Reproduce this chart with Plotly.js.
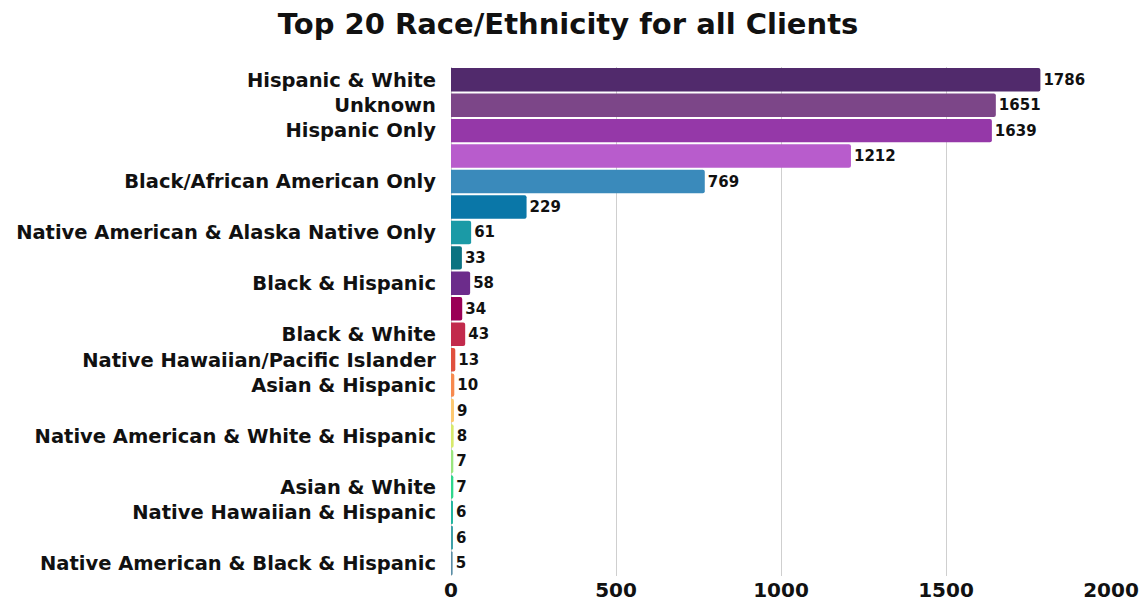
<!DOCTYPE html>
<html>
<head>
<meta charset="utf-8">
<script src="https://cdn.plot.ly/plotly-3.0.1.min.js"></script>
<style>html,body{margin:0;padding:0;background:#fff;}#chart{width:1143px;height:607px;}</style>
</head>
<body>
<div id="chart"></div>
<script>
const categories = [
  "Hispanic & White",
  "Unknown",
  "Hispanic Only",
  "",
  "Black/African American Only",
  "",
  "Native American & Alaska Native Only",
  "",
  "Black & Hispanic",
  "",
  "Black & White",
  "Native Hawaiian/Pacific Islander",
  "Asian & Hispanic",
  "",
  "Native American & White & Hispanic",
  "",
  "Asian & White",
  "Native Hawaiian & Hispanic",
  "",
  "Native American & Black & Hispanic"
];
const counts = [1786, 1651, 1639, 1212, 769, 229, 61, 33, 58, 34, 43, 13, 10, 9, 8, 7, 7, 6, 6, 5];
const barColors = [
  "#512a6c", "#7c4688", "#9538a8", "#b85ccc", "#3a8abb", "#0a77a8",
  "#1b9aa6", "#0b7381", "#6c2c8b", "#9a0056", "#c22a4c", "#e0503e",
  "#f78a4f", "#fdc86f", "#d8ea6c", "#9ae57e", "#2fd68c", "#22b59e",
  "#3c9fa6", "#5b8ea6"
];
const xTicks = [0, 500, 1000, 1500, 2000];

const FONT = "'DejaVu Sans', sans-serif";
const positions = counts.map((_, i) => i);

const trace = {
  type: "bar",
  orientation: "h",
  x: counts,
  y: positions,
  text: counts.map(String),
  textposition: "outside",
  cliponaxis: false,
  textfont: {family: FONT, size: 15, color: "#111", weight: 700},
  marker: {color: barColors, cornerradius: 2, line: {width: 0}},
  hoverinfo: "x+y"
};

const layout = {
  width: 1143,
  height: 607,
  paper_bgcolor: "#fff",
  plot_bgcolor: "#fff",
  margin: {l: 451, r: 32, t: 67, b: 31},
  title: {
    text: "Top 20 Race/Ethnicity for all Clients",
    x: 0.497, xanchor: "center", y: 0.96, yanchor: "middle",
    font: {family: FONT, size: 29, color: "#111", weight: 700}
  },
  bargap: 0.08,
  showlegend: false,
  xaxis: {
    range: [0, 2000],
    tickvals: xTicks,
    ticktext: xTicks.map(String),
    showgrid: true,
    gridcolor: "#cfcfcf",
    gridwidth: 1,
    zeroline: true,
    zerolinecolor: "#cfcfcf",
    showline: false,
    ticks: "",
    tickfont: {family: FONT, size: 20, color: "#111", weight: 700},
    fixedrange: true
  },
  yaxis: {
    autorange: false,
    range: [categories.length - 0.5, -0.5],
    tickvals: positions,
    ticktext: categories,
    showgrid: false,
    zeroline: false,
    showline: false,
    ticks: "",
    ticklabelstandoff: 14,
    tickfont: {family: FONT, size: 19.5, color: "#111", weight: 700},
    fixedrange: true
  }
};

Plotly.newPlot("chart", [trace], layout, {displayModeBar: false, staticPlot: true});
</script>
</body>
</html>
